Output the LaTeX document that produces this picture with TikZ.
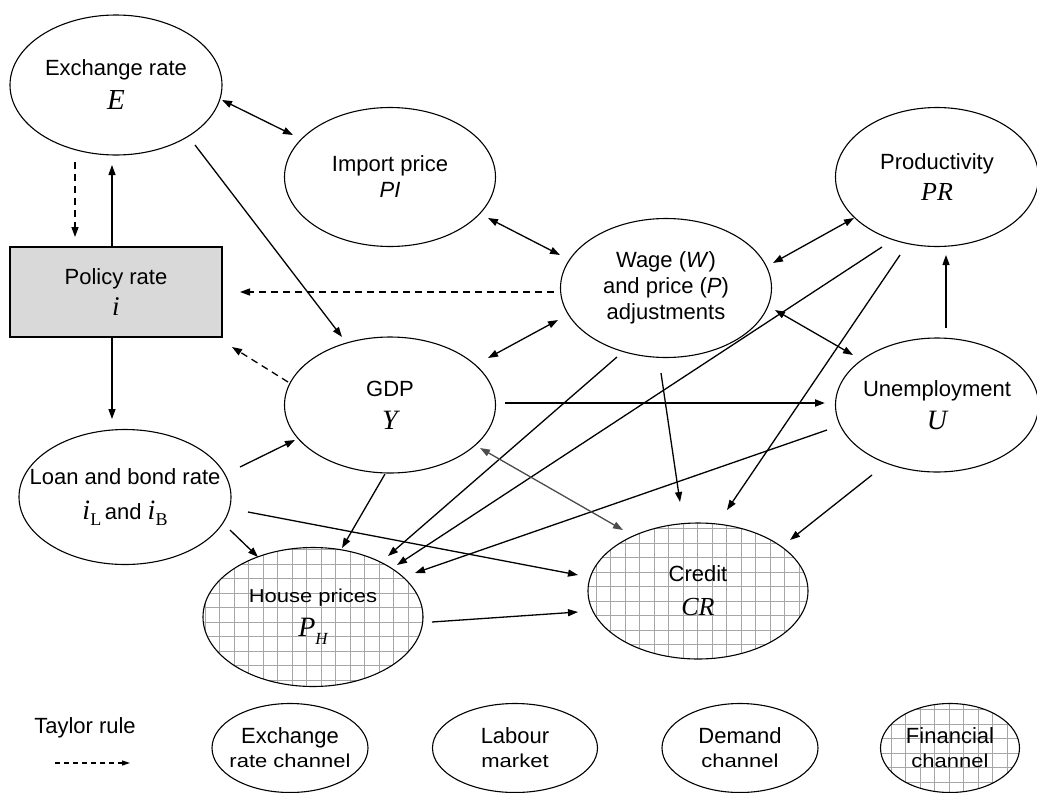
\documentclass[tikz,border=0pt]{standalone}
\usepackage{fontspec}
\usepackage{graphicx}
\setmainfont{Liberation Sans}
\newfontfamily\tms{Liberation Serif}
\usetikzlibrary{shapes.geometric,arrows.meta,calc}
\newcommand\mvar[2]{{\fontsize{#1}{#1}\selectfont\tms\itshape #2}}
\newcommand\subup[1]{\raisebox{-6pt}{\fontsize{18}{18}\selectfont\tms #1}}
\newcommand\squash[1]{\scalebox{1}[0.85]{#1}}
\begin{document}
\begin{tikzpicture}[x=1pt,y=-1pt,
  every node/.style={font=\fontsize{22}{26}\selectfont, align=center},
  ell/.style={ellipse, draw, line width=1.1pt, inner ysep=0pt, inner xsep=-30pt},
  hatch/.style={path picture={\draw[gray!70, line width=1pt, step=14.5pt]
     (path picture bounding box.south west) grid (path picture bounding box.north east);}},
  arr/.style={-{Triangle[length=10pt,width=7pt]}, line width=1.3pt},
  darr/.style={{Triangle[length=10pt,width=7pt]}-{Triangle[length=10pt,width=7pt]}, line width=1.3pt},
  dasharr/.style={arr, dash pattern=on 7pt off 5pt}
]
\useasboundingbox (0,0) rectangle (1037,793);

% main nodes
\node[ell, minimum width=212, minimum height=140] (E) at (116,85) {Exchange rate\\[8pt]\mvar{29}{E}};
\node[ell, minimum width=211, minimum height=139] (PI) at (390,177) {Import price\\[0pt]\textit{PI}};
\node[ell, minimum width=203, minimum height=139] (PR) at (937,177) {Productivity\\[5pt]\mvar{26}{PR}};
\node[ell, minimum width=211, minimum height=139] (W) at (666,288) {Wage (\textit{W})\\[0pt]and price (\textit{P})\\[0pt]adjustments};
\node[draw, line width=1.1pt, fill=gray!30, minimum width=212, minimum height=90, inner sep=0pt] (P) at (116,292) {Policy rate\\[5pt]\mvar{27}{i}};
\node[ell, minimum width=211, minimum height=136] (Y) at (390,405) {GDP\\[7pt]\mvar{28}{Y}};
\node[ell, minimum width=203, minimum height=134] (U) at (937,405) {Unemployment\\[7pt]\mvar{28}{U}};
\node[ell, minimum width=212, minimum height=135] (L) at (125,497) {Loan and bond rate\\[9pt]\mvar{28}{i}\subup{L}\,and \mvar{28}{i}\subup{B}};
\node[ell, hatch, minimum width=220, minimum height=139] (H) at (313,617) {\squash{House prices}\\[8pt]\mvar{28}{P}\raisebox{-8pt}{\mvar{17}{H}}};
\node[ell, hatch, minimum width=220, minimum height=136] (CR) at (698,591) {Credit\\[8pt]\mvar{26}{CR}};

% legend
\node (T) at (85,728) {Taylor rule};
\draw[dash pattern=on 5pt off 4pt, line width=1.2pt, -{Triangle[length=8pt,width=5pt]}] ($(T)+(-30,35)$) -- ($(T)+(45,35)$);
\node[ell, minimum width=156, minimum height=89] (LE) at (290,748) {Exchange\\[-2pt]\squash{rate channel}};
\node[ell, minimum width=165, minimum height=89] (LL) at (515,748) {Labour\\[-2pt]\squash{market}};
\node[ell, minimum width=156, minimum height=89] (LD) at (740,748) {Demand\\[-2pt]\squash{channel}};
\node[ell, hatch, minimum width=139, minimum height=89] (LF) at (950,748) {Financial\\[-2pt]\squash{channel}};

% connectors
\draw[darr] ($(E)+(106,15)$) -- ($(PI)+(-97,-42)$);
\draw[arr] ($(E)+(79,60)$) -- ($(Y)+(-48,-68)$);
\draw[dasharr] ($(E)+(-41,77)$) -- ($(P)+(-41,-55)$);
\draw[arr] ($(P)+(-4,-45)$) -- ($(E)+(-4,80)$);
\draw[arr] ($(P)+(-4,45)$) -- ($(L)+(-13,-78)$);
\draw[dasharr] ($(W)+(-112,4)$) -- ($(P)+(124,0)$);
\draw[dasharr] ($(Y)+(-102,-23)$) -- ($(P)+(116,55)$);
\draw[darr] ($(W)+(-106,-33)$) -- ($(PI)+(98,41)$);
\draw[darr] ($(W)+(-108,32)$) -- ($(Y)+(98,-47)$);
\draw[darr] ($(W)+(107,-25)$) -- ($(PR)+(-83,41)$);
\draw[darr] ($(W)+(109,22)$) -- ($(U)+(-84,-50)$);
\draw[arr] ($(U)+(9,-77)$) -- ($(PR)+(9,78)$);
\draw[arr, line width=2pt] ($(Y)+(115,-2)$) -- ($(U)+(-112,-2)$);
\draw[arr] ($(L)+(115,-30)$) -- ($(Y)+(-95,35)$);
\draw[arr] ($(L)+(105,33)$) -- ($(H)+(-55,-60)$);
\draw[arr] ($(L)+(123,15)$) -- ($(CR)+(-120,-16)$);
\draw[arr] ($(Y)+(-5,69)$) -- ($(H)+(29,-69)$);
\draw[arr] ($(W)+(-49,69)$) -- ($(H)+(75,-61)$);
\draw[arr] ($(PR)+(-55,70)$) -- ($(H)+(84,-52)$);
\draw[arr] ($(U)+(-110,25)$) -- ($(H)+(102,-44)$);
\draw[arr] ($(W)+(-5,85)$) -- ($(CR)+(-18,-89)$);
\draw[arr] ($(PR)+(-37,78)$) -- ($(CR)+(29,-81)$);
\draw[arr] ($(U)+(-65,70)$) -- ($(CR)+(92,-51)$);
\draw[darr, draw=gray!60!black, fill=gray!60!black] ($(Y)+(90,43)$) -- ($(CR)+(-75,-61)$);
\draw[arr] ($(H)+(119,5)$) -- ($(CR)+(-120,21)$);
\end{tikzpicture}
\end{document}
